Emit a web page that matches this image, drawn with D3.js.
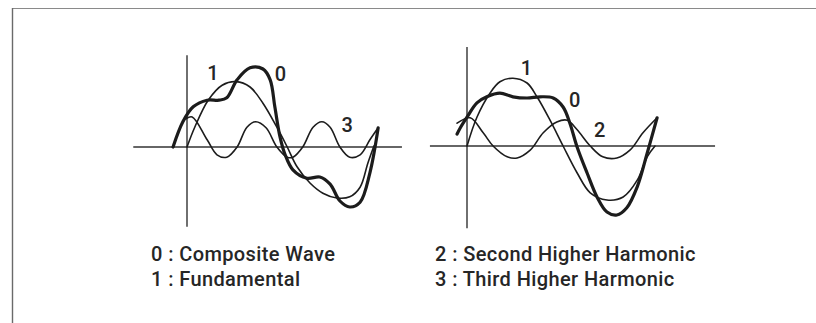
<!DOCTYPE html>
<html>
<head>
<meta charset="utf-8">
<script src="https://cdn.jsdelivr.net/npm/d3@7"></script>
<style>
  html, body { margin: 0; padding: 0; background: #fff; }
  svg { display: block; }
  text { font-family: Roboto, "Liberation Sans", Arial, sans-serif; fill: #262626; }
</style>
</head>
<body>
<svg id="chart" width="816" height="323"></svg>
<script>
// Phase in degrees of the fundamental, amplitude relative to the fundamental's peak.

// Left panel: fundamental + third higher harmonic
const leftComposite = [
  [-27, 0], [-8, 0.42], [12, 0.67], [39, 0.78], [62, 0.78], [77, 0.82], [97, 1.12],
  [122, 1.32], [147, 1.30], [161, 1.12], [170, 0.67], [180, 0.17], [190, -0.13],
  [205, -0.38], [232, -0.52], [257, -0.50], [277, -0.62], [296, -0.90], [315, -1.00],
  [335, -0.92], [354, -0.43], [370, 0.32]
];
const leftFundamental = [
  [0, 0], [15, 0.33], [41, 0.78], [68, 1.03], [95, 1.09], [122, 1.00], [147, 0.73],
  [174, 0.33], [194, 0], [213, -0.33], [238, -0.60], [263, -0.77], [290, -0.85],
  [315, -0.83], [335, -0.67], [350, -0.27], [362, 0.02]
];
const leftThird = [
  [-2, 0.47], [10, 0.50], [39, 0.12], [58, -0.13], [77, -0.17], [97, 0], [116, 0.33],
  [133, 0.42], [153, 0.32], [174, 0], [194, -0.17], [205, -0.17], [224, 0], [244, 0.33],
  [261, 0.42], [277, 0.33], [296, 0], [315, -0.17], [335, -0.13], [354, 0.12], [370, 0.32]
];

// Right panel: fundamental + second higher harmonic
const rightComposite = [
  [-19, 0.20], [-13, 0.30], [0, 0.48], [19, 0.72], [38, 0.82], [63, 0.88], [88, 0.82],
  [115, 0.80], [140, 0.82], [165, 0.80], [184, 0.65], [197, 0.38], [211, -0.02],
  [230, -0.45], [249, -0.85], [268, -1.10], [287, -1.15], [306, -1.03], [326, -0.68],
  [345, -0.12], [364, 0.47]
];
const rightFundamental = [
  [0, 0], [19, 0.48], [44, 0.88], [63, 1.07], [88, 1.13], [115, 1.05], [134, 0.82],
  [159, 0.43], [184, 0], [211, -0.45], [236, -0.78], [268, -0.90], [299, -0.85],
  [326, -0.57], [345, -0.18], [360, 0]
];
const rightSecond = [
  [-19, 0.38], [6, 0.47], [31, 0.22], [50, 0], [77, -0.18], [96, -0.20], [121, -0.07],
  [146, 0.22], [172, 0.40], [192, 0.43], [211, 0.27], [236, 0], [260, -0.18],
  [287, -0.20], [312, -0.07], [337, 0.22], [364, 0.47]
];

// Curve number labels: [label, phase, amplitude]
const leftLabels = [["1", 50, 1.12], ["0", 181, 1.10], ["3", 310, 0.25]];
const rightLabels = [["1", 114, 1.18], ["0", 206, 0.65], ["2", 254, 0.15]];

// Legend entries
const legendLeft = ["0 : Composite Wave", "1 : Fundamental"];
const legendRight = ["2 : Second Higher Harmonic", "3 : Third Higher Harmonic"];

const svg = d3.select("#chart");

// frame edges
svg.append("line").attr("x1", 12).attr("y1", 8.5).attr("x2", 816).attr("y2", 8.5)
  .attr("stroke", "#8a8a8a").attr("stroke-width", 1.2);
svg.append("line").attr("x1", 12.5).attr("y1", 8).attr("x2", 12.5).attr("y2", 323)
  .attr("stroke", "#6a6a6a").attr("stroke-width", 1.4);

function panel(cfg) {
  const x = d3.scaleLinear().domain([0, 360]).range([cfg.x0, cfg.x360]);
  const y = d3.scaleLinear().domain([0, 1]).range([cfg.y0, cfg.y1]);
  const g = svg.append("g");

  // axes
  g.append("line")
    .attr("x1", x(cfg.xExtent[0])).attr("x2", x(cfg.xExtent[1]))
    .attr("y1", y(0)).attr("y2", y(0))
    .attr("stroke", "#333").attr("stroke-width", 1.4);
  g.append("line")
    .attr("x1", x(0)).attr("x2", x(0))
    .attr("y1", y(cfg.yExtent[1])).attr("y2", y(cfg.yExtent[0]))
    .attr("stroke", "#333").attr("stroke-width", 1.4);

  const line = d3.line().x(d => x(d[0])).y(d => y(d[1])).curve(d3.curveCatmullRom.alpha(0.5));

  cfg.series.forEach(s => {
    g.append("path").datum(s.data)
      .attr("d", line)
      .attr("fill", "none")
      .attr("stroke", "#1c1c1c")
      .attr("stroke-width", s.w)
      .attr("stroke-linecap", "round")
      .attr("stroke-linejoin", "round");
  });

  g.selectAll("text.num").data(cfg.labels).join("text")
    .attr("class", "num")
    .attr("x", d => x(d[1])).attr("y", d => y(d[2]))
    .attr("text-anchor", "middle")
    .attr("font-size", 20)
    .attr("font-weight", 500)
    .text(d => d[0]);
}

panel({
  x0: 187, x360: 373, y0: 147, y1: 87,
  xExtent: [-104, 416], yExtent: [-1.33, 1.53],
  series: [
    { data: leftThird, w: 1.6 },
    { data: leftFundamental, w: 1.6 },
    { data: leftComposite, w: 3.2 }
  ],
  labels: leftLabels
});

panel({
  x0: 467, x360: 655, y0: 146, y1: 86,
  xExtent: [-71, 475], yExtent: [-1.37, 1.65],
  series: [
    { data: rightSecond, w: 1.6 },
    { data: rightFundamental, w: 1.6 },
    { data: rightComposite, w: 3.2 }
  ],
  labels: rightLabels
});

// legend
function legend(items, x0) {
  svg.append("g").selectAll("text").data(items).join("text")
    .attr("x", x0)
    .attr("y", (d, i) => 261 + i * 25)
    .attr("font-size", 20)
    .attr("font-weight", 500)
    .attr("letter-spacing", 0.4)
    .text(d => d);
}
legend(legendLeft, 151);
legend(legendRight, 435);
</script>
</body>
</html>
